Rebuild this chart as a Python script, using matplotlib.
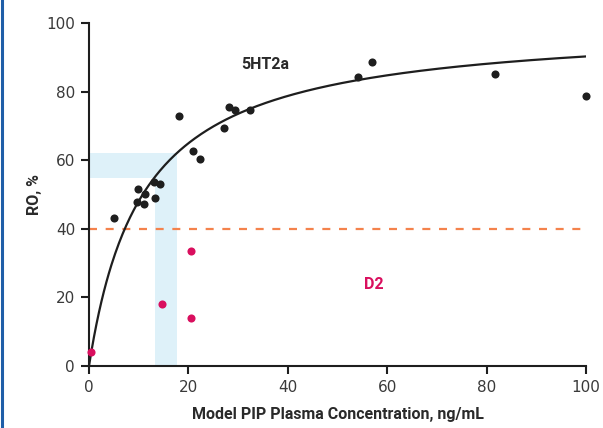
import numpy as np
import matplotlib.pyplot as plt
from matplotlib.lines import Line2D

# 5HT2a receptor occupancy observations (ng/mL, %)
ht2a_conc = [5.0, 9.9, 11.3, 9.7, 11.1, 13.1, 14.2, 13.2, 21.0, 22.4,
             18.1, 27.2, 28.2, 29.4, 32.4, 54.1, 56.9, 81.7, 100.0]
ht2a_ro = [43.2, 51.5, 50.1, 47.7, 47.1, 53.7, 53.1, 49.0, 62.8, 60.3,
           72.9, 69.4, 75.5, 74.6, 74.6, 84.3, 88.6, 85.1, 78.7]

# D2 receptor occupancy observations
d2_conc = [0.4, 14.7, 20.5, 20.5]
d2_ro = [4.1, 18.1, 33.4, 14.1]

# Emax fit for 5HT2a
emax = 100.0
ec50 = 10.8

# shaded target windows
conc_band = (13.3, 17.8)
ro_band = (54.7, 62.0)
d2_threshold = 40

xticks = [0, 20, 40, 60, 80, 100]
yticks = [0, 20, 40, 60, 80, 100]

dark = "#1e1e1e"
pink = "#d90f5e"
orange = "#f4824c"
shade = "#def1f9"
label_font = ["Roboto", "DejaVu Sans"]

fig = plt.figure(figsize=(6.03, 4.28), dpi=100)
ax = fig.add_axes([89 / 603, 62 / 428, 497 / 603, 343 / 428])

ax.fill_between([conc_band[0], conc_band[1]], 0, ro_band[1], color=shade, lw=0, zorder=0)
ax.fill_between([0, conc_band[1]], ro_band[0], ro_band[1], color=shade, lw=0, zorder=0)

ax.axhline(d2_threshold, xmin=0, xmax=0.995, color=orange, lw=1.6, dashes=(3.6, 3.9), zorder=1)

c = np.linspace(0, 100, 400)
ax.plot(c, emax * c / (ec50 + c), color=dark, lw=1.6, zorder=2)

ax.scatter(ht2a_conc, ht2a_ro, s=34, color=dark, lw=0, zorder=3, clip_on=False)
ax.scatter(d2_conc, d2_ro, s=34, color=pink, lw=0, zorder=3, clip_on=False)

ax.text(35.4, 87.8, "5HT2a", ha="center", va="center", fontsize=11.5,
        fontweight="bold", color="#2a2a2a", family=label_font)
ax.text(57.3, 23.9, "D2", ha="center", va="center", fontsize=11.5,
        fontweight="bold", color=pink, family=label_font)

ax.set_xlim(0, 100)
ax.set_ylim(0, 100)
ax.set_xticks(xticks)
ax.set_yticks(yticks)
for side in ["top", "right"]:
    ax.spines[side].set_visible(False)
for side in ["left", "bottom"]:
    ax.spines[side].set_linewidth(1.5)
    ax.spines[side].set_color(dark)
ax.tick_params(direction="out", length=6, width=1.5, color=dark,
               labelsize=11, labelcolor="#3a3a3a", pad=4)

ax.set_xlabel("Model PIP Plasma Concentration, ng/mL", fontsize=11.5,
              fontweight="bold", color="#2a2a2a", labelpad=9, family=label_font)
ax.set_ylabel("RO, %", fontsize=11.5, fontweight="bold", color="#2a2a2a",
              labelpad=3, family=label_font)

fig.add_artist(Line2D([1.5 / 603, 1.5 / 603], [0, 1], color="#1f5ea8", lw=2.2,
                      transform=fig.transFigure))

fig.savefig("out.png", dpi=100)
